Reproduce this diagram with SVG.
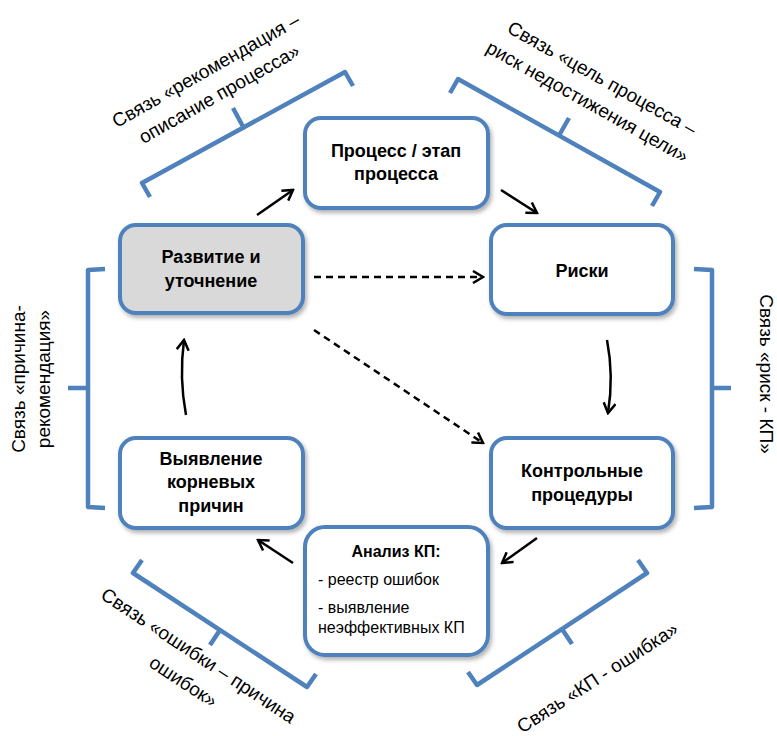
<svg xmlns="http://www.w3.org/2000/svg" width="777" height="736" viewBox="0 0 777 736">
<style>
.box{fill:#fff;stroke:#4F81BD;stroke-width:4;filter:url(#sh)}
.grey{fill:#D9D9D9}
.nt{font-family:"Liberation Sans",Arial,sans-serif;font-weight:bold;font-size:18px;fill:#000;text-anchor:middle}
.at{font-family:"Liberation Sans",Arial,sans-serif;font-size:16px;fill:#000}
.lbl{font-family:"Liberation Sans",Arial,sans-serif;font-size:19px;fill:#000;text-anchor:middle}
.brace{fill:none;stroke:#4F81BD;stroke-width:4.5;stroke-linejoin:round;stroke-linecap:butt}
.arr{fill:none;stroke:#000;stroke-width:2.5;marker-end:url(#ah)}
.dash{stroke-dasharray:7 5}
</style>
<defs>
<filter id="sh" x="-10%" y="-10%" width="130%" height="130%">
<feDropShadow dx="2" dy="3" stdDeviation="2" flood-color="#000" flood-opacity="0.3"/>
</filter>
<marker id="ah" markerUnits="userSpaceOnUse" markerWidth="14" markerHeight="14" viewBox="0 0 14 14" refX="12" refY="7" orient="auto">
<path d="M2,1 L12,7 L2,13" fill="none" stroke="#000" stroke-width="2.5" stroke-dasharray="none"/>
</marker>
</defs>

<g id="braces">
<path class="brace" d="M150,197 L142,183 L345,72 L353,86 M243.5,127.5 L233,108"/>
<path class="brace" d="M450,93 L458,79 L660,192 L652,206 M559,135.5 L569,118"/>
<path class="brace" d="M105,269 L88,270 L88,507 L105,508 M88,388 L68,388"/>
<path class="brace" d="M694,269 L712,270 L712,507 L694,508 M712,388 L731,388"/>
<path class="brace" d="M142,560 L133,573 L307,687 L316,674 M220,630 L210,645"/>
<path class="brace" d="M468,672 L477,685 L647,573 L638,560 M562,629 L572,644"/>
</g>

<g id="labels">
<text class="lbl" transform="translate(209,76) rotate(-29.5)"><tspan x="0" y="0">Связь «рекомендация –</tspan><tspan x="0" y="27">описание процесса»</tspan></text>
<text class="lbl" transform="translate(599,84) rotate(29.3)"><tspan x="0" y="0">Связь «цель процесса –</tspan><tspan x="-1.5" y="27.5">риск недостижения цели»</tspan></text>
<text class="lbl" transform="translate(25,379) rotate(-90)"><tspan x="0" y="0">Связь «причина-</tspan><tspan x="0" y="25">рекомендация»</tspan></text>
<text class="lbl" transform="translate(760,374) rotate(90)">Связь «риск - КП»</text>
<text class="lbl" transform="translate(195,661) rotate(33.5)"><tspan x="0" y="0">Связь «ошибки – причина</tspan><tspan x="1.5" y="30">ошибок»</tspan></text>
<text class="lbl" transform="translate(601,683) rotate(-32.8)">Связь «КП - ошибка»</text>
</g>

<g id="connectors">
<path class="arr" d="M257,215 L293,190"/>
<path class="arr" d="M501,190 L537,213"/>
<path class="arr" d="M607,340 Q614,376 608,413"/>
<path class="arr" d="M537,538 L502,563"/>
<path class="arr" d="M293,563 L258,540"/>
<path class="arr" d="M186,415 Q179,378 184,340"/>
<path class="arr dash" d="M314,277 L483,277"/>
<path class="arr dash" d="M314,330 L483,443"/>
</g>

<g id="node-process">
<rect class="box" x="305" y="118" width="183" height="90" rx="16"/>
<text class="nt" x="396" y="157">Процесс / этап</text>
<text class="nt" x="396" y="180">процесса</text>
</g>
<g id="node-develop">
<rect class="box grey" x="120" y="225" width="183" height="88" rx="16"/>
<text class="nt" x="211" y="263">Развитие и</text>
<text class="nt" x="211" y="287">уточнение</text>
</g>
<g id="node-risks">
<rect class="box" x="491" y="225" width="182" height="89" rx="16"/>
<text class="nt" x="582" y="277">Риски</text>
</g>
<g id="node-kp">
<rect class="box" x="491" y="438" width="182" height="90" rx="16"/>
<text class="nt" x="582" y="477">Контрольные</text>
<text class="nt" x="582" y="501">процедуры</text>
</g>
<g id="node-causes">
<rect class="box" x="120" y="438" width="183" height="90" rx="16"/>
<text class="nt" x="211" y="465">Выявление</text>
<text class="nt" x="211" y="488">корневых</text>
<text class="nt" x="211" y="512">причин</text>
</g>
<g id="node-analysis">
<rect class="box" x="305" y="527" width="183" height="128" rx="20"/>
<text class="at" x="396" y="557" font-weight="bold" text-anchor="middle">Анализ КП:</text>
<text class="at" x="318" y="585">- реестр ошибок</text>
<text class="at" x="318" y="613">- выявление</text>
<text class="at" x="318" y="633">неэффективных КП</text>
</g>
</svg>
